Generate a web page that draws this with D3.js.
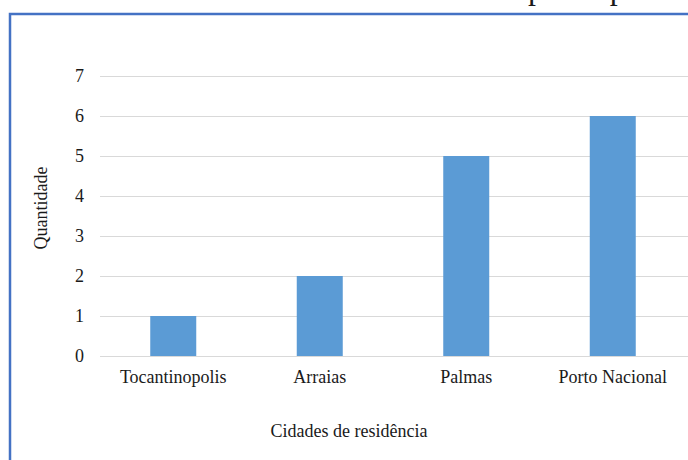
<!DOCTYPE html>
<meta charset="utf-8">
<style>

body {
  margin: 0;
  background: #fff;
}

text {
  font-family: "Liberation Serif", "Times New Roman", serif;
  fill: #1a1a1a;
}

.grid line {
  stroke: #d9d9d9;
  stroke-width: 1px;
}

.bar {
  fill: #5b9bd5;
}

</style>
<svg width="688" height="460"></svg>
<script src="https://cdnjs.cloudflare.com/ajax/libs/d3/7.8.5/d3.min.js"></script>
<script>

var cidades = ["Tocantinopolis", "Arraias", "Palmas", "Porto Nacional"];
var quantidade = [1, 2, 5, 6];
var yTicks = [0, 1, 2, 3, 4, 5, 6, 7];
var titulo = "Cidades de residência dos participantes";

var svg = d3.select("svg");

var x = d3.scaleBand()
    .domain(cidades)
    .range([100, 686])
    .paddingInner(0.686)
    .paddingOuter(0.343);

var y = d3.scaleLinear()
    .domain([0, 7])
    .range([356, 76]);

// moldura azul (cortada em cima e à direita)
svg.append("path")
    .attr("d", "M10,470V14H700")
    .attr("fill", "none")
    .attr("stroke", "#4472c4")
    .attr("stroke-width", 2.5);

// titulo: so aparecem as pernas dos "p"
var title = svg.append("text")
    .attr("y", -1)
    .style("font-size", "32px")
    .text(titulo);
var pIdx = titulo.indexOf("p");
var px = title.node().getStartPositionOfChar(pIdx).x;
title.attr("x", 528 - px);

// grade
svg.append("g")
    .attr("class", "grid")
  .selectAll("line")
  .data(yTicks)
  .enter().append("line")
    .attr("x1", 100)
    .attr("x2", 688)
    .attr("y1", function(d) { return Math.round(y(d)) + 0.5; })
    .attr("y2", function(d) { return Math.round(y(d)) + 0.5; });

// barras
svg.selectAll(".bar")
  .data(quantidade)
  .enter().append("rect")
    .attr("class", "bar")
    .attr("x", function(d, i) { return x(cidades[i]); })
    .attr("width", x.bandwidth())
    .attr("y", function(d) { return y(d); })
    .attr("height", function(d) { return y(0) - y(d); });

// eixo y
svg.append("g")
  .selectAll("text")
  .data(yTicks)
  .enter().append("text")
    .attr("x", 84)
    .attr("y", function(d) { return y(d); })
    .attr("dy", "0.33em")
    .attr("text-anchor", "end")
    .style("font-size", "18px")
    .text(function(d) { return d; });

// eixo x
svg.append("g")
  .selectAll("text")
  .data(cidades)
  .enter().append("text")
    .attr("x", function(d) { return x(d) + x.bandwidth() / 2; })
    .attr("y", 383)
    .attr("text-anchor", "middle")
    .style("font-size", "18px")
    .text(function(d) { return d; });

// titulos dos eixos
svg.append("text")
    .attr("x", 349)
    .attr("y", 437)
    .attr("text-anchor", "middle")
    .style("font-size", "18px")
    .text("Cidades de residência");

svg.append("text")
    .attr("transform", "translate(47,208) rotate(-90)")
    .attr("text-anchor", "middle")
    .style("font-size", "18px")
    .text("Quantidade");

</script>
